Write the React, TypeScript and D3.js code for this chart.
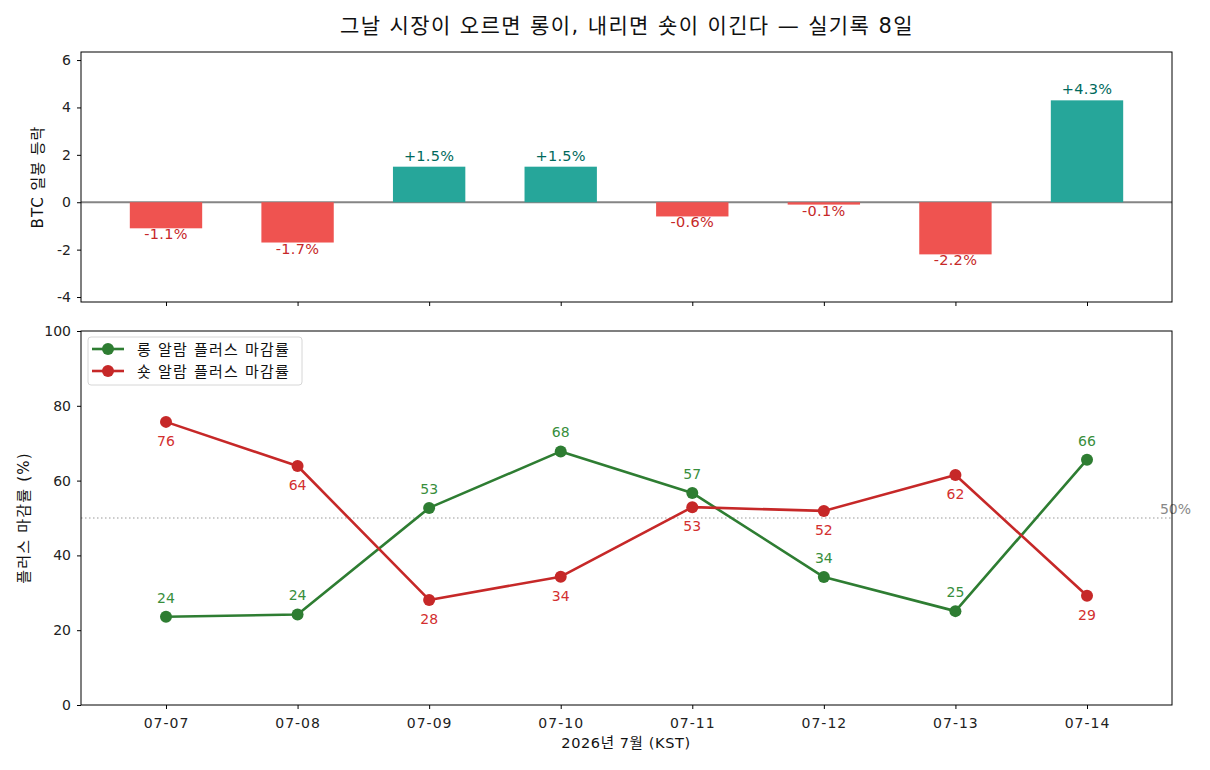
import React, { useEffect, useRef } from 'react'
import * as d3 from 'd3'

const dates = ['07-07', '07-08', '07-09', '07-10', '07-11', '07-12', '07-13', '07-14']
const btcChange = [-1.1, -1.7, 1.5, 1.5, -0.6, -0.1, -2.2, 4.3]
const longRate = [23.6, 24.2, 52.7, 67.8, 56.7, 34.2, 25.1, 65.6]
const shortRate = [75.7, 63.9, 28.1, 34.3, 52.9, 51.9, 61.5, 29.2]
const changeTicks = [-4, -2, 0, 2, 4, 6]
const rateTicks = [0, 20, 40, 60, 80, 100]

// DejaVu for digits/latin, Hangul falls through to Noto CJK
const FONT = '"DejaVu Sans", "Noto Sans CJK KR", sans-serif'

const App = () => {
	const ref = useRef<SVGSVGElement>(null)

	const width = 1210
	const height = 770
	const left = 81
	const right = 1172
	const topPanel = [52, 302]
	const bottomPanel = [331, 705]

	useEffect(() => {
		if (!ref.current) return
		const svg = d3.select(ref.current)
		svg.selectAll('*').remove()
		svg.style('font-family', FONT)

		const x = d3
			.scaleLinear()
			.domain([-0.646, dates.length - 1 + 0.646])
			.range([left, right])

		const yTop = d3.scaleLinear().domain([-4.21, 6.34]).range([topPanel[1], topPanel[0]])
		const yBot = d3.scaleLinear().domain([0, 100]).range([bottomPanel[1], bottomPanel[0]])

		const styleTicks = (spacing: number) => g =>
			g
				.selectAll('text')
				.attr('font-size', 14)
				.attr('fill', '#222')
				.attr('letter-spacing', spacing)
				.style('font-family', FONT)

		// title
		svg
			.append('text')
			.attr('x', 627)
			.attr('y', 33)
			.attr('text-anchor', 'middle')
			.attr('font-size', 21)
			.attr('letter-spacing', 1.4)
			.attr('fill', '#111')
			.text('그날 시장이 오르면 롱이, 내리면 숏이 이긴다 — 실기록 8일')

		// ---- top panel: BTC daily change bars
		const top = svg.append('g')
		const barW = 0.55 * (x(1) - x(0))

		top
			.append('line')
			.attr('x1', left)
			.attr('x2', right)
			.attr('y1', yTop(0))
			.attr('y2', yTop(0))
			.attr('stroke', '#858585')
			.attr('stroke-width', 1.8)

		top
			.selectAll('rect.bar')
			.data(btcChange)
			.join('rect')
			.attr('class', 'bar')
			.attr('x', (d, i) => x(i) - barW / 2)
			.attr('width', barW)
			.attr('y', d => yTop(Math.max(0, d)))
			.attr('height', d => Math.abs(yTop(d) - yTop(0)))
			.attr('fill', d => (d >= 0 ? '#26a69a' : '#ef5350'))

		top
			.selectAll('text.bar-label')
			.data(btcChange)
			.join('text')
			.attr('class', 'bar-label')
			.attr('x', (d, i) => x(i))
			.attr('y', d => (d >= 0 ? yTop(d) - 6 : yTop(d) + 11))
			.attr('text-anchor', 'middle')
			.attr('font-size', 14.5)
			.attr('letter-spacing', 0.3)
			.attr('fill', d => (d >= 0 ? '#00695c' : '#c62828'))
			.text(d => (d >= 0 ? '+' : '') + d.toFixed(1) + '%')

		top
			.append('g')
			.attr('transform', `translate(${left},0)`)
			.call(
				d3
					.axisLeft(yTop)
					.tickValues(changeTicks)
					.tickSize(4)
					.tickPadding(6)
					.tickFormat(d => String(d))
			)
			.call(g => g.select('.domain').remove())
			.call(styleTicks(0))

		top
			.append('g')
			.attr('transform', `translate(0,${topPanel[1]})`)
			.call(d3.axisBottom(x).tickValues(d3.range(dates.length)).tickSize(4).tickFormat(() => ''))
			.call(g => g.select('.domain').remove())

		top
			.append('rect')
			.attr('x', left)
			.attr('y', topPanel[0])
			.attr('width', right - left)
			.attr('height', topPanel[1] - topPanel[0])
			.attr('fill', 'none')
			.attr('stroke', '#000')
			.attr('stroke-width', 1)

		top
			.append('text')
			.attr('transform', `translate(43,${(topPanel[0] + topPanel[1]) / 2}) rotate(-90)`)
			.attr('text-anchor', 'middle')
			.attr('font-size', 15)
			.attr('letter-spacing', 1)
			.attr('fill', '#111')
			.text('BTC 일봉 등락')

		// ---- bottom panel: plus-close rates
		const bot = svg.append('g')

		bot
			.append('line')
			.attr('x1', left)
			.attr('x2', right)
			.attr('y1', yBot(50))
			.attr('y2', yBot(50))
			.attr('stroke', '#999')
			.attr('stroke-width', 1.2)
			.attr('stroke-dasharray', '1.5,2.5')

		bot
			.append('text')
			.attr('x', right + 19)
			.attr('y', yBot(50) - 4)
			.attr('text-anchor', 'end')
			.attr('font-size', 14)
			.attr('fill', '#888')
			.text('50%')

		const series = [
			{ name: '롱 알람 플러스 마감률', values: longRate, color: '#2e7d32', label: '#388e3c', dy: -14 },
			{ name: '숏 알람 플러스 마감률', values: shortRate, color: '#c62828', label: '#d32f2f', dy: 24 }
		]

		const line = d3
			.line<number>()
			.x((d, i) => x(i))
			.y(d => yBot(d))

		series.forEach(s => {
			const g = bot.append('g')
			g.append('path')
				.attr('d', line(s.values))
				.attr('fill', 'none')
				.attr('stroke', s.color)
				.attr('stroke-width', 2.6)
				.attr('stroke-linejoin', 'round')
			g.selectAll('circle')
				.data(s.values)
				.join('circle')
				.attr('cx', (d, i) => x(i))
				.attr('cy', d => yBot(d))
				.attr('r', 6)
				.attr('fill', s.color)
			g.selectAll('text')
				.data(s.values)
				.join('text')
				.attr('x', (d, i) => x(i))
				.attr('y', d => yBot(d) + s.dy)
				.attr('text-anchor', 'middle')
				.attr('font-size', 14)
				.attr('fill', s.label)
				.text(d => d.toFixed(0))
		})

		bot
			.append('g')
			.attr('transform', `translate(${left},0)`)
			.call(
				d3
					.axisLeft(yBot)
					.tickValues(rateTicks)
					.tickSize(4)
					.tickPadding(6)
					.tickFormat(d => String(d))
			)
			.call(g => g.select('.domain').remove())
			.call(styleTicks(0))

		bot
			.append('g')
			.attr('transform', `translate(0,${bottomPanel[1]})`)
			.call(
				d3
					.axisBottom(x)
					.tickValues(d3.range(dates.length))
					.tickSize(4)
					.tickPadding(9)
					.tickFormat(i => dates[i as number])
			)
			.call(g => g.select('.domain').remove())
			.call(styleTicks(1))

		bot
			.append('rect')
			.attr('x', left)
			.attr('y', bottomPanel[0])
			.attr('width', right - left)
			.attr('height', bottomPanel[1] - bottomPanel[0])
			.attr('fill', 'none')
			.attr('stroke', '#000')
			.attr('stroke-width', 1)

		bot
			.append('text')
			.attr('transform', `translate(29,${(bottomPanel[0] + bottomPanel[1]) / 2}) rotate(-90)`)
			.attr('text-anchor', 'middle')
			.attr('font-size', 15)
			.attr('letter-spacing', 1.2)
			.attr('fill', '#111')
			.text('플러스 마감률 (%)')

		bot
			.append('text')
			.attr('x', 626)
			.attr('y', 748)
			.attr('text-anchor', 'middle')
			.attr('font-size', 14.5)
			.attr('letter-spacing', 0.6)
			.attr('fill', '#111')
			.text('2026년 7월 (KST)')

		// legend
		const legend = bot.append('g').attr('transform', 'translate(88,337)')
		legend
			.append('rect')
			.attr('width', 214)
			.attr('height', 48)
			.attr('rx', 3)
			.attr('fill', '#fff')
			.attr('fill-opacity', 0.8)
			.attr('stroke', '#d6d6d6')
		series.forEach((s, i) => {
			const row = legend.append('g').attr('transform', `translate(0,${12 + i * 22})`)
			row.append('line')
				.attr('x1', 4)
				.attr('x2', 36)
				.attr('stroke', s.color)
				.attr('stroke-width', 2.6)
			row.append('circle').attr('cx', 20).attr('r', 6).attr('fill', s.color)
			row.append('text')
				.attr('x', 49)
				.attr('y', 5.5)
				.attr('font-size', 15)
				.attr('letter-spacing', 1.2)
				.attr('fill', '#111')
				.text(s.name)
		})
	}, [])

	return (
		<svg
			ref={ref}
			width={width}
			height={height}
			style={{ position: 'absolute', left: 0, top: 0, background: '#fff' }}
		/>
	)
}

export default App
